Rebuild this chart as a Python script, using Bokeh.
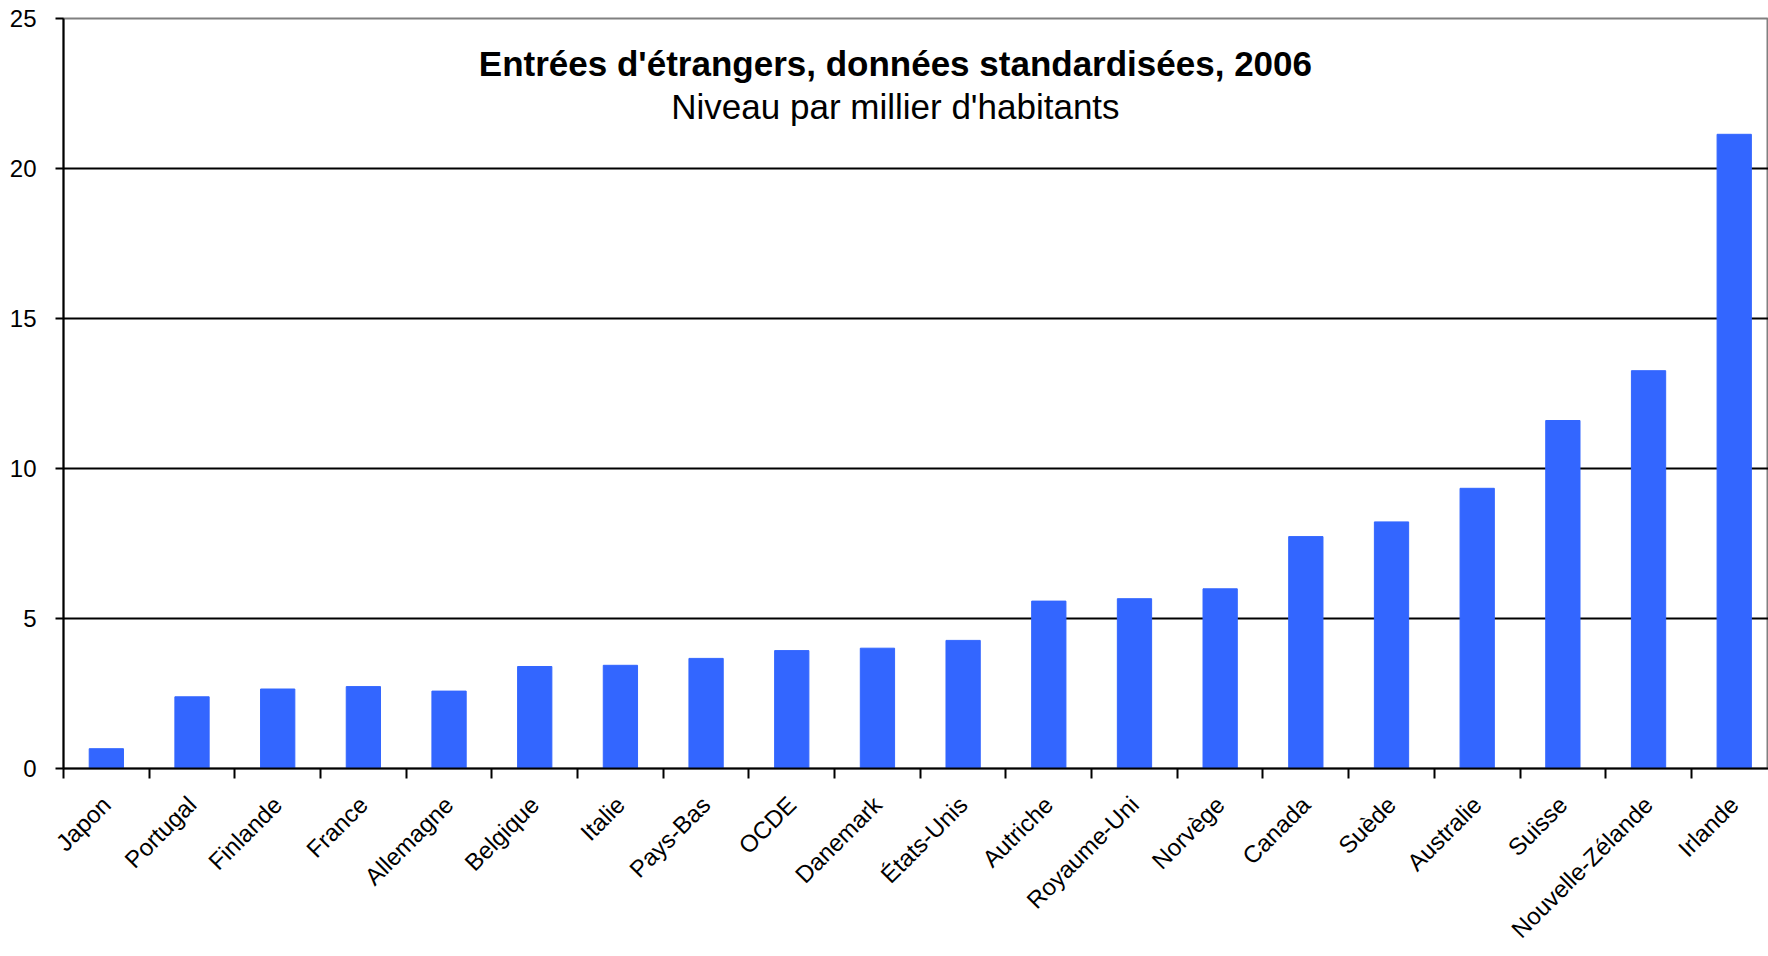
from math import pi
from bokeh.plotting import figure
from bokeh.models import (Range1d, LinearAxis, FixedTicker, Label,
                          ColumnDataSource, CustomJSTickFormatter)
from bokeh.embed import file_html
from bokeh.resources import INLINE

countries = ["Japon", "Portugal", "Finlande", "France", "Allemagne", "Belgique",
             "Italie", "Pays-Bas", "OCDE", "Danemark", "États-Unis", "Autriche",
             "Royaume-Uni", "Norvège", "Canada", "Suède", "Australie", "Suisse",
             "Nouvelle-Zélande", "Irlande"]
values = [0.66, 2.39, 2.65, 2.73, 2.58, 3.40, 3.44, 3.67, 3.93, 4.01, 4.27, 5.58,
          5.66, 5.99, 7.73, 8.22, 9.34, 11.60, 13.26, 21.14]
y_ticks = [0, 5, 10, 15, 20, 25]
title_text = "Entrées d'étrangers, données standardisées, 2006"
subtitle_text = "Niveau par millier d'habitants"
source_text = "Source : OCDE (2008)"

FONT = "Liberation Sans"
n = len(countries)
centers = [i + 0.5 for i in range(n)]
edges = list(range(n + 1))

src = ColumnDataSource(dict(x=centers, country=countries, value=values))

# the last category runs slightly past the right edge, as in the original
p = figure(x_range=Range1d(0, n - 0.1), y_range=Range1d(0, 25),
           width=1768, height=956, output_backend="svg", toolbar_location=None,
           x_axis_location=None, y_axis_location=None,
           min_border_left=63, min_border_right=0, min_border_top=18,
           min_border_bottom=188)
p.background_fill_color = "white"
p.border_fill_color = "white"
p.outline_line_color = "#808080"
p.outline_line_width = 2

p.vbar(x="x", top="value", width=0.4, source=src,
       fill_color="#3366FF", line_color="#3366FF", line_width=1)

# y axis
yaxis = LinearAxis(ticker=FixedTicker(ticks=y_ticks))
yaxis.axis_line_color = "black"
yaxis.axis_line_width = 2
yaxis.major_tick_line_color = "black"
yaxis.major_tick_line_width = 2
yaxis.major_tick_in = 0
yaxis.major_tick_out = 8
yaxis.minor_tick_line_color = None
yaxis.major_label_text_font = FONT
yaxis.major_label_text_font_size = "24px"
yaxis.major_label_text_color = "black"
yaxis.major_label_standoff = 19
p.add_layout(yaxis, "left")

p.ygrid.ticker = FixedTicker(ticks=[5, 10, 15, 20])
p.ygrid.grid_line_color = "black"
p.ygrid.grid_line_width = 2
p.xgrid.grid_line_color = None

# x axis: names at category centres, tick marks (minor) at category edges
xaxis = LinearAxis(ticker=FixedTicker(ticks=centers, minor_ticks=edges),
                   formatter=CustomJSTickFormatter(
                       args=dict(names=countries),
                       code="return names[Math.floor(tick)];"))
xaxis.axis_line_color = "black"
xaxis.axis_line_width = 2
xaxis.major_tick_line_color = None
xaxis.major_tick_in = 0
xaxis.major_tick_out = 10
xaxis.minor_tick_line_color = "black"
xaxis.minor_tick_line_width = 2
xaxis.minor_tick_in = 0
xaxis.minor_tick_out = 10
xaxis.major_label_orientation = pi / 4
xaxis.major_label_text_font = FONT
xaxis.major_label_text_font_size = "24px"
xaxis.major_label_text_color = "black"
xaxis.major_label_standoff = 22
p.add_layout(xaxis, "below")

# titles inside the plot area
p.add_layout(Label(x=9.71, y=23.5, text=title_text, text_align="center",
                   text_baseline="alphabetic", text_font=FONT,
                   text_font_style="bold", text_font_size="35px",
                   text_color="black"))
p.add_layout(Label(x=9.71, y=22.06, text=subtitle_text, text_align="center",
                   text_baseline="alphabetic", text_font=FONT,
                   text_font_size="35px", text_color="black"))

# source note below the axis (screen offsets from the frame's bottom-left)
p.add_layout(Label(x=-55, y=-168, x_units="screen", y_units="screen",
                   text=source_text, text_align="left",
                   text_baseline="top", text_font=FONT,
                   text_font_size="26px", text_color="black",
                   level="overlay"))

open("out.html", "w").write(file_html(p, INLINE))
